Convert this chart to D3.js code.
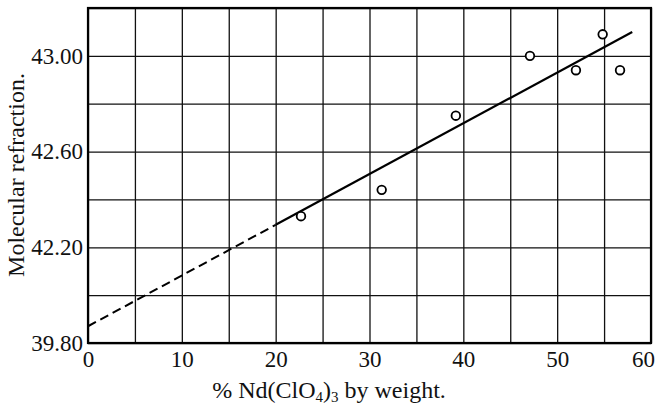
<!DOCTYPE html>
<html>
<head>
<meta charset="utf-8">
<script src="https://cdn.jsdelivr.net/npm/d3@7"></script>
<style>
  body { margin: 0; background: #fff; }
</style>
</head>
<body>
<div id="chart"></div>
<script>
// measured points: % Nd(ClO4)3 by weight vs molecular refraction
let percent = [22.7, 31.3, 39.2, 47.1, 52.0, 54.85, 56.7]
let refraction = [42.33, 42.44, 42.75, 43.00, 42.94, 43.09, 42.94]

// fitted straight line: dashed extrapolation, then solid part
let dashedX = [0, 20]
let dashedY = [41.87, 42.294]
let solidX = [20, 58]
let solidY = [42.294, 43.10]

// axis ticks (the printed bottom label reads 39.80)
let xTicks = [0, 10, 20, 30, 40, 50, 60]
let xGrid = [0, 5, 10, 15, 20, 25, 30, 35, 40, 45, 50, 55, 60]
let yGrid = [41.8, 42.0, 42.2, 42.4, 42.6, 42.8, 43.0, 43.2]
let yTicks = [41.8, 42.2, 42.6, 43.0]
let yTickLabels = ["39.80", "42.20", "42.60", "43.00"]

let width = 658
let height = 404
let plotLeft = 88, plotRight = 651, plotTop = 8, plotBottom = 343
let serif = "'Liberation Serif', 'Times New Roman', serif"

let svg = d3.select("#chart")
.append("svg")
.attr("width", width)
.attr("height", height)

let x = d3.scaleLinear()
.domain([0, 60])
.range([plotLeft, plotRight])

let y = d3.scaleLinear()
.domain([41.8, 43.2])
.range([plotBottom, plotTop])

//grid lines
svg.append("g")
.attr("transform", "translate(0," + plotBottom + ")")
.call(d3.axisBottom(x).tickValues(xGrid).tickSize(-(plotBottom - plotTop)).tickFormat(""))
.call(g => g.select(".domain").remove())
.selectAll("line")
.attr("stroke", "#111")
.attr("stroke-width", 1.3)

svg.append("g")
.attr("transform", "translate(" + plotLeft + ",0)")
.call(d3.axisLeft(y).tickValues(yGrid).tickSize(-(plotRight - plotLeft)).tickFormat(""))
.call(g => g.select(".domain").remove())
.selectAll("line")
.attr("stroke", "#111")
.attr("stroke-width", 1.3)

//frame
svg.append("rect")
.attr("x", plotLeft)
.attr("y", plotTop)
.attr("width", plotRight - plotLeft)
.attr("height", plotBottom - plotTop)
.attr("fill", "none")
.attr("stroke", "#000")
.attr("stroke-width", 2.2)

//tick labels
let xAxis = svg.append("g")
.attr("transform", "translate(0," + plotBottom + ")")
.call(d3.axisBottom(x).tickValues(xTicks).tickSize(0).tickPadding(8).tickFormat(d3.format("d")))
.call(g => g.select(".domain").remove())
.attr("font-family", serif)
.attr("font-size", 23)
xAxis.selectAll("text")
.style("font-family", serif)
.style("font-size", "23px")
.attr("fill", "#111")
// the last label sits inside the frame edge
xAxis.selectAll("text").filter(d => d == 60).attr("dx", -8)

svg.append("g")
.attr("transform", "translate(" + plotLeft + ",0)")
.call(d3.axisLeft(y).tickValues(yTicks).tickSize(0).tickPadding(5)
  .tickFormat((d, i) => yTickLabels[i]))
.call(g => g.select(".domain").remove())
.attr("font-family", serif)
.attr("font-size", 23)
.selectAll("text")
.style("font-family", serif)
.style("font-size", "23px")
.attr("fill", "#111")

//fit line
let line = d3.line()
.x(d => x(d[0]))
.y(d => y(d[1]))

svg.append("path")
.datum(d3.zip(dashedX, dashedY))
.attr("d", line)
.attr("fill", "none")
.attr("stroke", "#000")
.attr("stroke-width", 2)
.attr("stroke-dasharray", "9,5")

svg.append("path")
.datum(d3.zip(solidX, solidY))
.attr("d", line)
.attr("fill", "none")
.attr("stroke", "#000")
.attr("stroke-width", 2.2)

//points
svg.selectAll(".pt")
.data(d3.zip(percent, refraction))
.enter()
.append("circle")
.attr("class", "pt")
.attr("cx", d => x(d[0]))
.attr("cy", d => y(d[1]))
.attr("r", 4.3)
.attr("fill", "#fff")
.attr("stroke", "#000")
.attr("stroke-width", 1.8)

//axis titles
let xTitle = svg.append("text")
.attr("x", 329)
.attr("y", 398)
.attr("text-anchor", "middle")
.style("font-family", serif)
.style("font-size", "24px")
.attr("fill", "#111")
xTitle.append("tspan").text("% Nd(ClO")
xTitle.append("tspan").text("4").attr("dy", 4).style("font-size", "15px")
xTitle.append("tspan").text(")").attr("dy", -4)
xTitle.append("tspan").text("3").attr("dy", 4).style("font-size", "15px")
xTitle.append("tspan").text(" by weight.").attr("dy", -4)

svg.append("text")
.attr("transform", "translate(24,175) rotate(-90)")
.attr("text-anchor", "middle")
.style("font-family", serif)
.style("font-size", "24px")
.attr("fill", "#111")
.text("Molecular refraction.")
</script>
</body>
</html>
